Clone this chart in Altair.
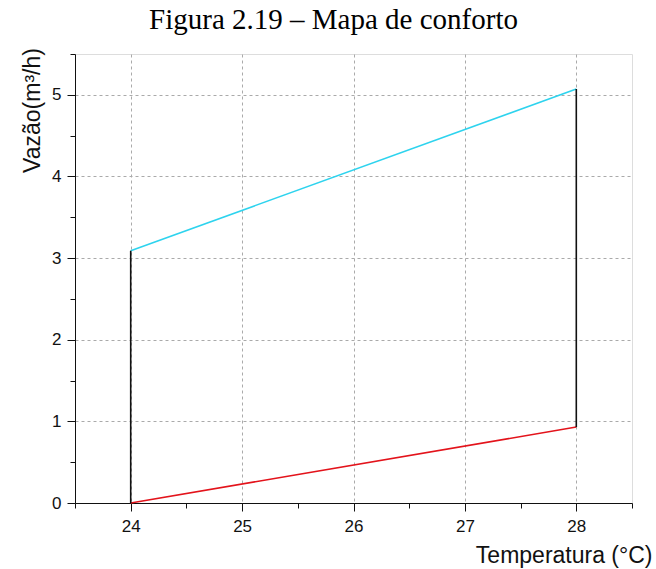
import altair as alt
import pandas as pd

# Data
seg_x0 = [24, 24, 24, 28]
seg_y0 = [3.09, 0.0, 0.0, 0.93]
seg_x1 = [28, 28, 24, 28]
seg_y1 = [5.07, 0.93, 3.09, 5.07]
seg_name = ["superior", "inferior", "esquerda", "direita"]
seg_color = ["#2ED3EE", "#E3131B", "#111111", "#111111"]

x_ticks = [23.5, 24, 24.5, 25, 25.5, 26, 26.5, 27, 27.5, 28, 28.5]
y_ticks = [0, 0.5, 1, 1.5, 2, 2.5, 3, 3.5, 4, 4.5, 5, 5.5]

rows = []
for n, a, b, c, d in zip(seg_name, seg_x0, seg_y0, seg_x1, seg_y1):
    rows.append({"seg": n, "x": a, "y": b, "o": 0})
    rows.append({"seg": n, "x": c, "y": d, "o": 1})
df = pd.DataFrame(rows)

minor = "datum.value % 1 != 0"
lbl = "datum.value % 1 == 0 ? format(datum.value, 'd') : ''"

x_axis = alt.Axis(
    values=x_ticks,
    labelExpr=lbl,
    title="Temperatura (°C)",
    titleFont="Liberation Sans", titleFontSize=23, titleFontWeight="normal",
    titleColor="#111", titleAlign="right", titleBaseline="alphabetic",
    titleX=577, titleY=59, titleAngle=0,
    labelFont="Liberation Sans", labelFontSize=17, labelColor="#111",
    labelPadding=7,
    tickSize={"condition": {"test": minor, "value": 5}, "value": 8},
    tickColor="#111", domainColor="#111",
    grid=True, gridDash=[3, 3], gridColor="#aaa",
    gridOpacity={"condition": {"test": minor, "value": 0}, "value": 1},
)
y_axis = alt.Axis(
    values=y_ticks,
    labelExpr=lbl,
    title="Vazão(m³/h)",
    titleFont="Liberation Sans", titleFontSize=23, titleFontWeight="normal",
    titleColor="#111", titleAlign="center", titleBaseline="alphabetic",
    titleX=-36, titleY=56, titleAngle=-90,
    labelFont="Liberation Sans", labelFontSize=17, labelColor="#111",
    labelPadding=6,
    tickSize={"condition": {"test": minor, "value": 5}, "value": 8},
    tickColor="#111", domainColor="#111",
    grid=True, gridDash=[3, 3], gridColor="#aaa",
    gridOpacity={"condition": {"test": minor, "value": 0}, "value": 1},
)

chart = alt.Chart(df).mark_line(strokeWidth=1.6).encode(
    x=alt.X("x:Q", scale=alt.Scale(domain=[23.5, 28.5], nice=False, zero=False), axis=x_axis),
    y=alt.Y("y:Q", scale=alt.Scale(domain=[0, 5.5], nice=False), axis=y_axis),
    color=alt.Color("seg:N", scale=alt.Scale(domain=seg_name, range=seg_color), legend=None),
    order="o:Q",
).properties(
    width=557, height=449,
    title=alt.TitleParams(
        "Figura 2.19 – Mapa de conforto",
        font="Liberation Serif", fontSize=29, fontWeight="normal", color="#000",
        anchor="middle", baseline="alphabetic", offset=-10, dx=-20,
    ),
    autosize=alt.AutoSizeParams(type="none"),
    padding={"left": 75, "top": 54, "right": 24, "bottom": 66},
).configure_view(stroke="#111", strokeWidth=1.3).configure(background="white")

chart.save("out.html", embed_options={"renderer": "svg", "actions": False})
